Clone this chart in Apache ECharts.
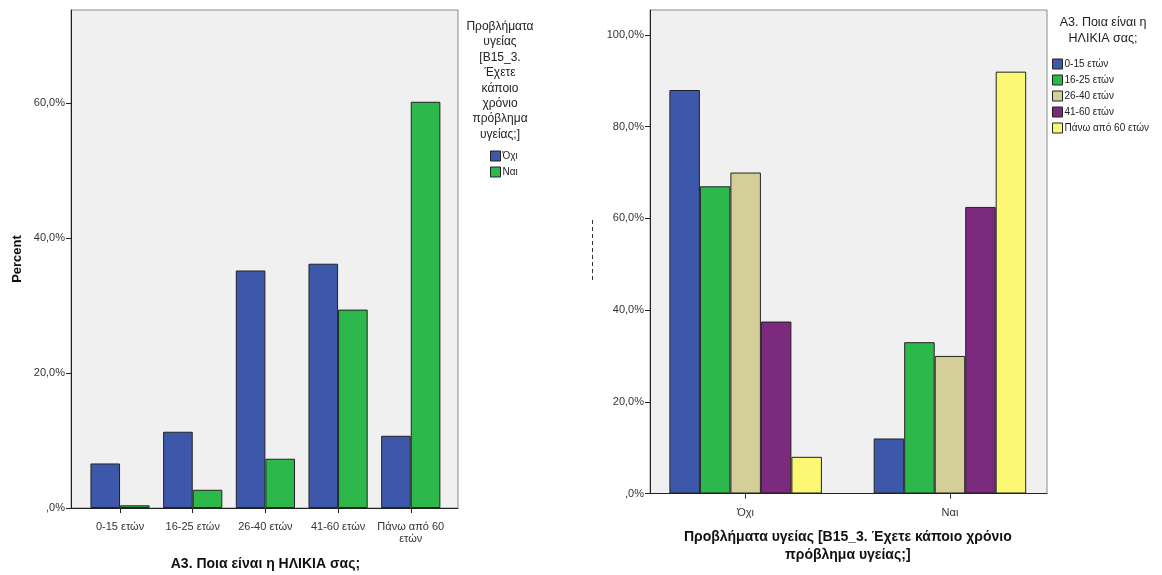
<!DOCTYPE html>
<html>
<head>
<meta charset="utf-8">
<script src="https://cdn.jsdelivr.net/npm/echarts@6/dist/echarts.min.js"></script>
<style>
html,body{margin:0;padding:0;background:#fff;}
#chart{width:1162px;height:575px;}
</style>
</head>
<body>
<div id="chart"></div>
<script>
// ---- Left chart data (percent within health-problem answer) ----
const ageCats = ['0-15 ετών', '16-25 ετών', '26-40 ετών', '41-60 ετών', 'Πάνω από 60\nετών'];
const leftNo  = [6.6, 11.3, 35.2, 36.2, 10.7];
const leftYes = [0.4, 2.7, 7.3, 29.4, 60.2];
const leftTicks = [0, 20, 40, 60];

// ---- Right chart data (percent within age group) ----
const healthCats = ['Όχι', 'Ναι'];
const ageNames = ['0-15 ετών', '16-25 ετών', '26-40 ετών', '41-60 ετών', 'Πάνω από 60 ετών'];
const age0_15   = [88.0, 12.0];
const age16_25  = [67.0, 33.0];
const age26_40  = [70.0, 30.0];
const age41_60  = [37.5, 62.5];
const age60plus = [8.0, 92.0];
const rightTicks = [0, 20, 40, 60, 80, 100];

const FONT = '"Liberation Sans", Arial, sans-serif';
const colors = ['#3D58AB', '#2DB84B', '#D4CE98', '#7B2A7E', '#FBF874'];
const pct = v => (v === 0 ? ',0%' : v.toFixed(1).replace('.', ',') + '%');
const barBorder = { borderColor: '#222', borderWidth: 1 };

const LEFT_MAX = 73.8, RIGHT_MAX = 105.45;

const chart = echarts.init(document.getElementById('chart'), null, { renderer: 'canvas' });

// frame axes: draw plot frame, y scale and baseline
function frameY(gridIndex, max, ticks, name) {
  return {
    type: 'value', gridIndex, min: 0, max,
    name, nameLocation: 'middle', nameGap: 54,
    nameTextStyle: { fontFamily: FONT, fontSize: 13, fontWeight: 'bold', color: '#111', verticalAlign: 'middle' },
    axisLine: { show: true, lineStyle: { color: '#222', width: 1 } },
    axisTick: { show: true, length: 5, lineStyle: { color: '#222' }, customValues: ticks },
    axisLabel: { fontFamily: FONT, fontSize: 11, color: '#333', margin: 6, formatter: pct, customValues: ticks },
    splitLine: { show: false }
  };
}
function frameX(gridIndex) {
  return {
    type: 'value', gridIndex, min: 0, max: 1,
    axisLine: { show: true, onZero: false, lineStyle: { color: '#222', width: 1 } },
    axisTick: { show: false }, axisLabel: { show: false }, splitLine: { show: false }
  };
}
// data axes: category positions of bars
function dataX(gridIndex, data, name, gap) {
  return {
    type: 'category', gridIndex, data,
    name, nameLocation: 'middle', nameGap: gap,
    nameTextStyle: { fontFamily: FONT, fontSize: 14, fontWeight: 'bold', color: '#111', verticalAlign: 'middle', lineHeight: 18 },
    axisLine: { show: false },
    axisTick: { show: true, alignWithLabel: true, length: 5, lineStyle: { color: '#222' } },
    axisLabel: { fontFamily: FONT, fontSize: 11, color: '#333', margin: 13, interval: 0, lineHeight: 12 }
  };
}
function dataY(gridIndex, max) {
  return { type: 'value', gridIndex, min: 0, max, show: false, splitLine: { show: false } };
}

const frameStyle = { show: true, backgroundColor: '#F0F0F0', borderColor: '#8a8a8a', borderWidth: 1 };
const noBounds = { outerBoundsMode: 'none', containLabel: false };

const option = {
  animation: false,
  backgroundColor: '#fff',
  grid: [
    Object.assign({ left: 71, top: 10, width: 387, height: 498 }, frameStyle, noBounds),
    Object.assign({ left: 83.7, top: 10, width: 363.4, height: 498 }, noBounds),
    Object.assign({ left: 650, top: 10, width: 397, height: 483.5 }, frameStyle, noBounds),
    Object.assign({ left: 643.5, top: 10, width: 408.6, height: 483.5 }, noBounds)
  ],
  xAxis: [
    frameX(0),
    dataX(1, ageCats, 'A3. Ποια είναι η ΗΛΙΚΙΑ σας;', 56),
    frameX(2),
    dataX(3, healthCats, 'Προβλήματα υγείας [B15_3. Έχετε κάποιο χρόνιο\nπρόβλημα υγείας;]', 53)
  ],
  yAxis: [
    frameY(0, LEFT_MAX, leftTicks, 'Percent'),
    dataY(1, LEFT_MAX),
    frameY(2, RIGHT_MAX, rightTicks, ''),
    dataY(3, RIGHT_MAX)
  ],
  legend: [
    {
      data: ['Όχι', 'Ναι'], orient: 'vertical', left: 485, top: 145,
      itemWidth: 10, itemHeight: 10, itemGap: 4, icon: 'rect',
      itemStyle: { borderColor: '#222', borderWidth: 1 },
      textStyle: { fontFamily: FONT, fontSize: 10, color: '#222', lineHeight: 12, padding: [0, 0, 0, -3] }
    },
    {
      data: ageNames, orient: 'vertical', left: 1047, top: 53,
      itemWidth: 10, itemHeight: 10, itemGap: 4, icon: 'rect',
      itemStyle: { borderColor: '#222', borderWidth: 1 },
      textStyle: { fontFamily: FONT, fontSize: 10, color: '#222', lineHeight: 12, padding: [0, 0, 0, -3] }
    }
  ],
  graphic: [
    {
      type: 'text', x: 500, y: 19,
      style: {
        text: 'Προβλήματα\nυγείας\n[B15_3.\nΈχετε\nκάποιο\nχρόνιο\nπρόβλημα\nυγείας;]',
        align: 'center', verticalAlign: 'top', lineHeight: 15.4,
        font: '12px ' + FONT, fill: '#222'
      }
    },
    {
      type: 'text', x: 1103, y: 15,
      style: {
        text: 'A3. Ποια είναι η\nΗΛΙΚΙΑ σας;',
        align: 'center', verticalAlign: 'top', lineHeight: 16,
        font: '12.5px ' + FONT, fill: '#222'
      }
    },
    {
      type: 'line', shape: { x1: 592.5, y1: 220, x2: 592.5, y2: 283 },
      style: { stroke: '#333', lineWidth: 1, lineDash: [4, 3] }
    }
  ],
  series: [
    { name: 'Όχι', type: 'bar', xAxisIndex: 1, yAxisIndex: 1, data: leftNo, barWidth: 29.6, barGap: '0%', itemStyle: Object.assign({ color: colors[0] }, barBorder) },
    { name: 'Ναι', type: 'bar', xAxisIndex: 1, yAxisIndex: 1, data: leftYes, barWidth: 29.6, barGap: '0%', itemStyle: Object.assign({ color: colors[1] }, barBorder) },
    { name: ageNames[0], type: 'bar', xAxisIndex: 3, yAxisIndex: 3, data: age0_15, barWidth: 30.5, barGap: '0%', itemStyle: Object.assign({ color: colors[0] }, barBorder) },
    { name: ageNames[1], type: 'bar', xAxisIndex: 3, yAxisIndex: 3, data: age16_25, barWidth: 30.5, barGap: '0%', itemStyle: Object.assign({ color: colors[1] }, barBorder) },
    { name: ageNames[2], type: 'bar', xAxisIndex: 3, yAxisIndex: 3, data: age26_40, barWidth: 30.5, barGap: '0%', itemStyle: Object.assign({ color: colors[2] }, barBorder) },
    { name: ageNames[3], type: 'bar', xAxisIndex: 3, yAxisIndex: 3, data: age41_60, barWidth: 30.5, barGap: '0%', itemStyle: Object.assign({ color: colors[3] }, barBorder) },
    { name: ageNames[4], type: 'bar', xAxisIndex: 3, yAxisIndex: 3, data: age60plus, barWidth: 30.5, barGap: '0%', itemStyle: Object.assign({ color: colors[4] }, barBorder) }
  ]
};
chart.setOption(option);
</script>
</body>
</html>
